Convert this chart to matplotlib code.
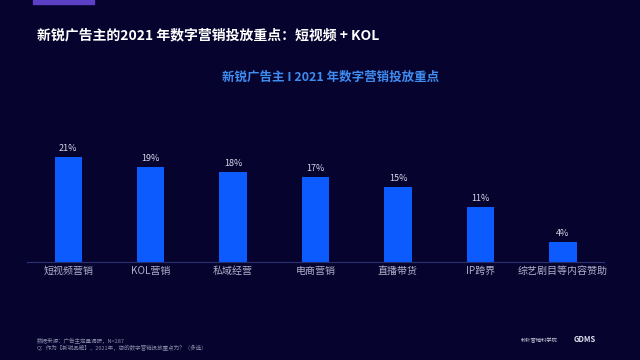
import matplotlib
matplotlib.use("Agg")
import matplotlib.pyplot as plt
from matplotlib.patches import Rectangle

plt.rcParams["font.family"] = ["Noto Sans CJK SC", "DejaVu Sans"]

# Данные с картинки
categories = ["短视频营销", "KOL营销", "私域经营", "电商营销", "直播带货", "IP跨界", "综艺剧目等内容赞助"]
values = [21, 19, 18, 17, 15, 11, 4]

title = "新锐广告主的2021 年数字营销投放重点：短视频 + KOL"
subtitle = "新锐广告主 I 2021 年数字营销投放重点"
footnote = ["数据来源：广告主定量调研，N=287",
            "Q：作为【新锐品牌】，2021年，您的数字营销投放重点为？（多选）"]

BG = "#06042f"
BAR = "#0b5bff"

fig = plt.figure(figsize=(6.4, 3.6), dpi=100, facecolor=BG)
ax = fig.add_axes([0.042, 0.272, 0.902, 0.347], facecolor=BG)

x = range(len(categories))
ax.bar(x, values, width=0.33, color=BAR)
for i, v in zip(x, values):
    ax.text(i, v + 0.8, f"{v}%", ha="center", va="bottom", fontsize=6.5, color="#d8d8e8")

ax.set_xlim(-0.5, 6.5)
ax.set_ylim(0, 25)
ax.set_xticks(list(x))
ax.set_xticklabels(categories, fontsize=7.2, color="#b0b0c8")
ax.tick_params(axis="x", length=0, pad=3)
ax.set_yticks([])
for side in ["top", "right", "left"]:
    ax.spines[side].set_visible(False)
ax.spines["bottom"].set_color("#2c3070")
ax.spines["bottom"].set_linewidth(0.8)

# Заголовки
fig.text(37 / 640, 1 - 35 / 360, title, fontsize=10, fontweight="bold", color="white", va="center")
fig.text(331 / 640, 1 - 77 / 360, subtitle, fontsize=9, fontweight="bold", color="#3f8cf0",
         ha="center", va="center")

# Фиолетовая плашка сверху слева
fig.patches.append(Rectangle((33 / 640, 1 - 4 / 360), 61 / 640, 4 / 360,
                             transform=fig.transFigure, color="#5b3fc4", zorder=0))

# Сноска и логотипы
fig.text(37 / 640, 1 - 340 / 360, footnote[0], fontsize=4, color="#8a8aa8", va="center")
fig.text(37 / 640, 1 - 348 / 360, footnote[1], fontsize=4, color="#8a8aa8", va="center")
fig.text(558 / 640, 1 - 341 / 360, "秒针营销科学院", fontsize=3.8, color="#c8c8d8", ha="right", va="center")
fig.text(585 / 640, 1 - 340 / 360, "GDMS", fontsize=5.5, fontweight="bold", color="#e0e0f0",
         ha="center", va="center")

fig.savefig("out.png", dpi=100, facecolor=BG)
